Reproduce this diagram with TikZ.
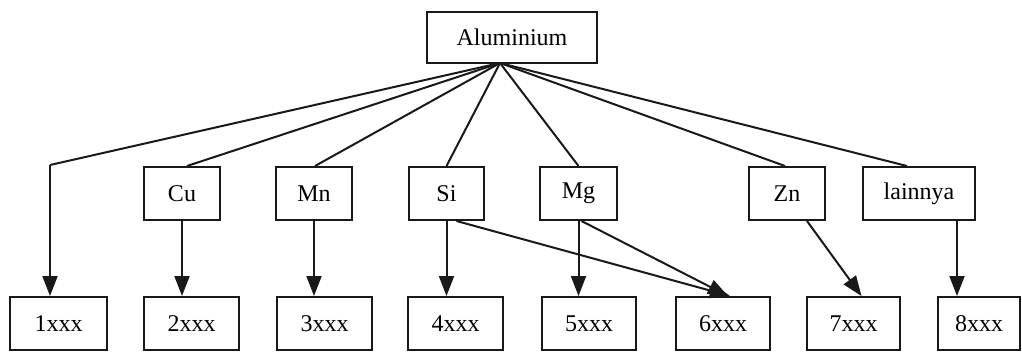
\documentclass[tikz,border=0pt]{standalone}
\usepackage{fontspec}
\setmainfont{Liberation Serif}
\usetikzlibrary{arrows.meta}
\begin{document}
\begin{tikzpicture}[x=1pt,y=-1pt,
  box/.style={draw=black!90, line width=2pt, inner sep=0pt, minimum height=53pt, font=\fontsize{24}{27}\selectfont},
  link/.style={draw=black!90, line width=2pt},
  arr/.style={link, -{Triangle[width=15pt,length=20pt]}}]
\useasboundingbox (0,0) rectangle (1022,354);
% top
\node[box, minimum width=170pt, minimum height=51pt] (al) at (512,37.5) {Aluminium};
\coordinate (hub) at (500,63);
% middle row
\node[box, minimum width=76pt] (cu) at (182,193.5) {Cu};
\node[box, minimum width=76pt] (mn) at (314,193.5) {Mn};
\node[box, minimum width=75pt] (si) at (446.5,193.5) {Si};
\node[box, minimum width=77pt] (mg) at (578.5,193.5) {Mg};
\node[box, minimum width=76pt] (zn) at (787,193.5) {Zn};
\node[box, minimum width=112pt] (ot) at (919,193.5) {lainnya};
% bottom row
\node[box, minimum width=97pt] (b1) at (58.5,323.5) {1xxx};
\node[box, minimum width=95pt] (b2) at (191.5,323.5) {2xxx};
\node[box, minimum width=95pt] (b3) at (324.5,323.5) {3xxx};
\node[box, minimum width=95pt] (b4) at (455.5,323.5) {4xxx};
\node[box, minimum width=94pt] (b5) at (589,323.5) {5xxx};
\node[box, minimum width=94pt] (b6) at (723,323.5) {6xxx};
\node[box, minimum width=93pt] (b7) at (853.5,323.5) {7xxx};
\node[box, minimum width=82pt] (b8) at (979,323.5) {8xxx};
% corner for 1xxx
\coordinate (c1) at (50,165);
% top connectors
\draw[link] (hub) -- (c1);
\draw[link] (hub) -- ([xshift=5pt]cu.north);
\draw[link] (hub) -- ([xshift=1pt]mn.north);
\draw[link] (hub) -- (si.north);
\draw[link] (hub) -- (mg.north);
\draw[link] (hub) -- ([xshift=-2pt]zn.north);
\draw[link] (hub) -- ([xshift=-12pt]ot.north);
% arrows down
\draw[arr] (c1) -- (c1 |- b1.north);
\draw[arr] (cu.south) -- (cu.south |- b2.north);
\draw[arr] (mn.south) -- (mn.south |- b3.north);
\draw[arr] (si.south) -- (si.south |- b4.north);
\draw[arr] (mg.south) -- (mg.south |- b5.north);
\draw[arr] ([xshift=10pt]si.south) -- ([xshift=7pt]b6.north);
\draw[arr] ([xshift=3pt]mg.south) -- ([xshift=5pt]b6.north);
\draw[arr] ([xshift=20pt]zn.south) -- ([xshift=8pt]b7.north);
\draw[arr] ([xshift=38pt]ot.south) -- ([xshift=38pt]ot.south |- b8.north);
\end{tikzpicture}
\end{document}
